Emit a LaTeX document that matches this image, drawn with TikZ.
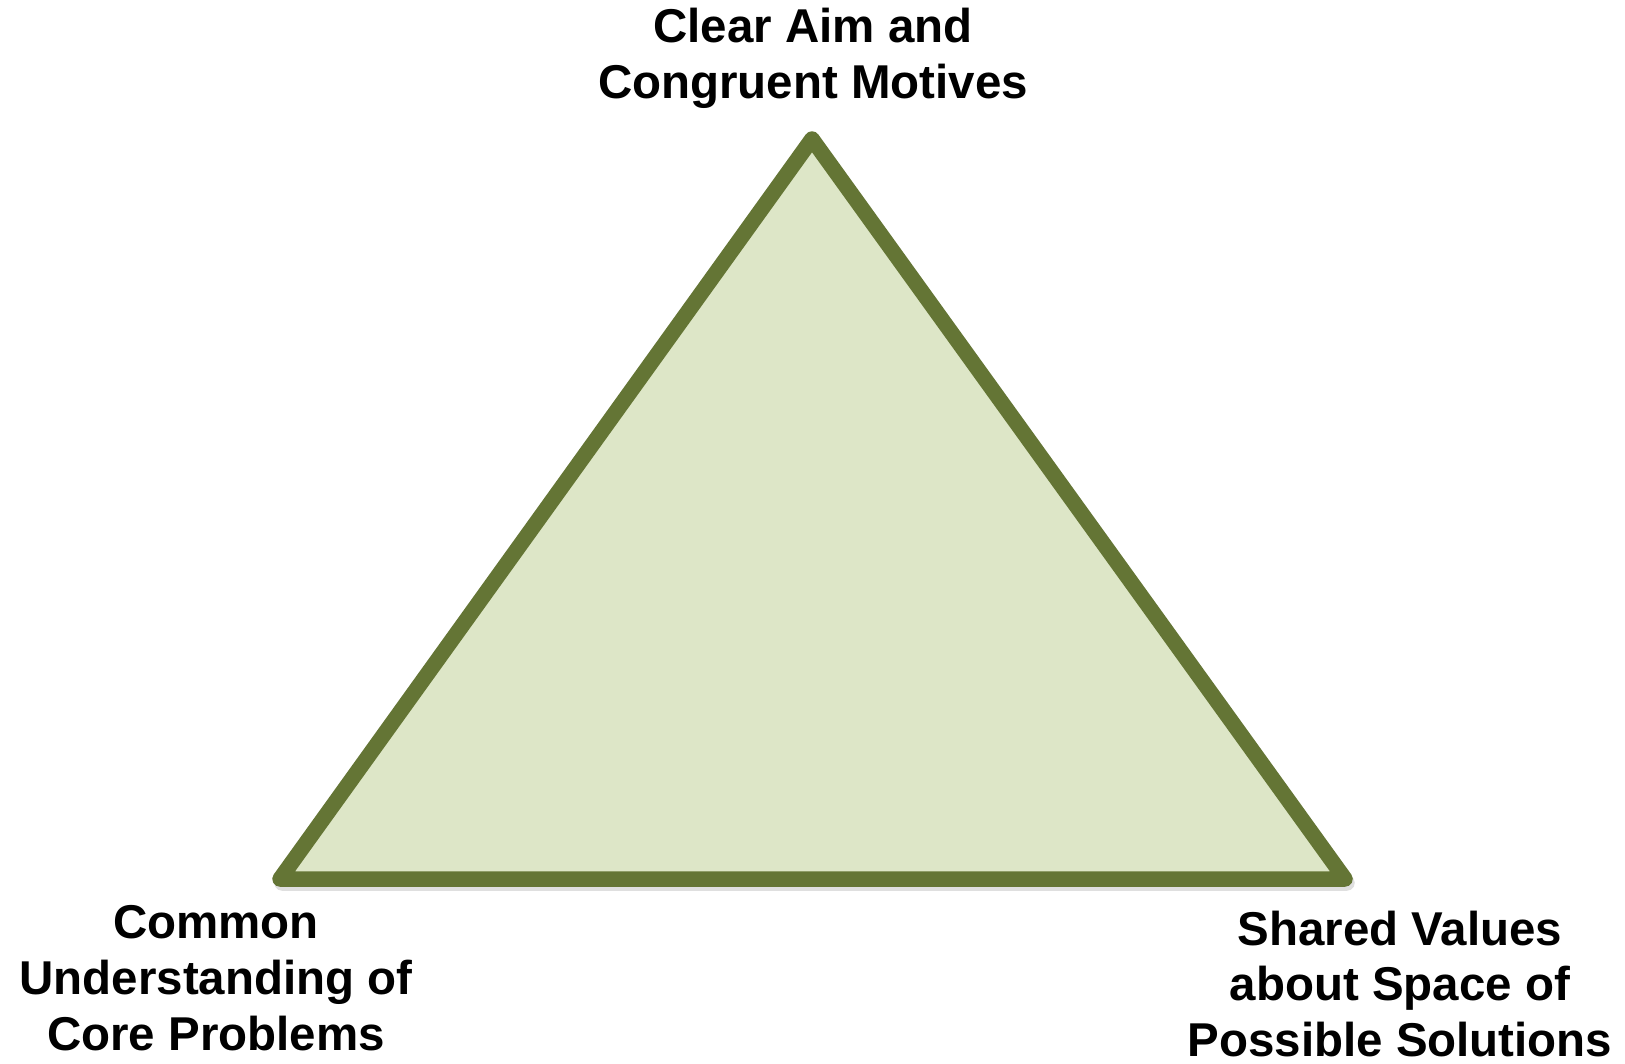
\documentclass[tikz,border=0pt]{standalone}
\usepackage{fontspec}
\setmainfont{Liberation Sans}
\usepackage{tikz}
\usetikzlibrary{positioning}

\definecolor{olive}{HTML}{647535}
\definecolor{sage}{HTML}{DDE6C7}

\tikzset{
  corner/.style={align=center, font=\bfseries\fontsize{13.5}{15.9}\selectfont, inner sep=0pt},
  edgeline/.style={line width=0.155cm, line join=round, line cap=round},
}

\begin{document}
\begin{tikzpicture}[x=0.01cm, y=-0.01cm]
 \useasboundingbox (0,0) rectangle (1625,1063);
 % corners of the triangle
 \coordinate (aim) at (812,139);
 \coordinate (core) at (280,879);
 \coordinate (values) at (1345,879);
 % soft shadow under the outline
 \draw[edgeline, gray, opacity=0.25] ([shift={(2,4)}]aim) -- ([shift={(2,4)}]core) -- ([shift={(2,4)}]values) -- cycle;
 \draw[edgeline, draw=olive, fill=sage] (aim) -- (core) -- (values) -- cycle;
 % labels
 \node[corner] (aimtext) at (813,58) {Clear Aim and\\Congruent Motives};
 \node[corner] (coretext) at (216,978) {Common\\Understanding of\\Core Problems};
 \node[corner] (valuestext) at (1400,984) {Shared Values\\about Space of\\Possible Solutions};
\end{tikzpicture}
\end{document}
